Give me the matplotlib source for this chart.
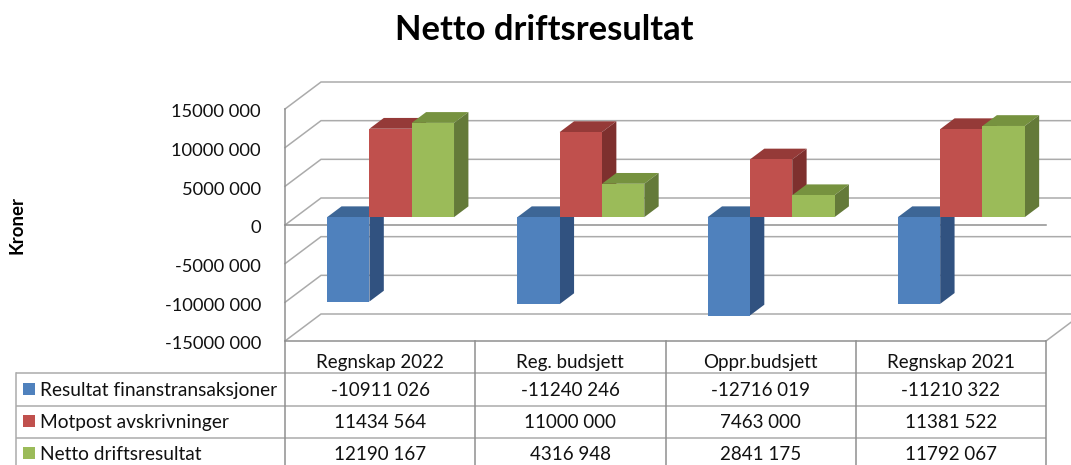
import matplotlib
matplotlib.use("Agg")
import matplotlib.pyplot as plt

plt.rcParams['font.family'] = ['Lato', 'DejaVu Sans']

categories = ["Regnskap 2022", "Reg. budsjett", "Oppr.budsjett", "Regnskap 2021"]
series_names = ["Resultat finanstransaksjoner", "Motpost avskrivninger", "Netto driftsresultat"]
resultat_finans = [-10911026, -11240246, -12716019, -11210322]
motpost_avskr = [11434564, 11000000, 7463000, 11381522]
netto_drift = [12190167, 4316948, 2841175, 11792067]
y_ticks = [15000000, 10000000, 5000000, 0, -5000000, -10000000, -15000000]

series = [resultat_finans, motpost_avskr, netto_drift]
front_col = ["#4F81BD", "#C0504D", "#9BBB59"]
top_col = ["#3D6696", "#953A38", "#76923F"]
side_col = ["#315280", "#7E302E", "#647A39"]
GRID = "#ababab"
AXIS = "#8f8f8f"
TXT = "#111111"

W, H = 1071, 465
fig = plt.figure(figsize=(W / 100, H / 100), dpi=100)


def fmt(v):
    if v == 0:
        return "0"
    s = str(v)
    return s[:-3] + " " + s[-3:]


# overlay in pixel units for the data table and labels
px = fig.add_axes([0, 0, 1, 1], zorder=2)
px.set_xlim(0, W)
px.set_ylim(H, 0)
px.axis("off")
px.patch.set_alpha(0)

# front plane of the chart: categories on x, kroner on y
L, R, T, B = 285, 1046, 109, 341
ax = fig.add_axes([L / W, 1 - B / H, (R - L) / W, (B - T) / H], zorder=1)
ax.set_xlim(0, len(categories))
ax.set_ylim(-15000000, 15000000)
ax.axis("off")

ux = (R - L) / len(categories)          # px per category
uy = (B - T) / 30000000                 # px per krone
DX, DY = 36, 27                         # full floor depth in px


def P(x, y, depth=0.0):
    """Project a point at a given depth fraction to the front-plane data space."""
    return x + depth * DX / ux, y + depth * DY / uy


# back wall grid, side wall diagonals, left axis
for v in y_ticks:
    x0, y0 = P(0, v)
    x1, y1 = P(0, v, 1)
    x2, _ = P(len(categories) + 0.3, v, 1)
    ax.plot([x0, x1, x2], [y0, y1, y1], color=GRID, lw=1.1, clip_on=False, zorder=1,
            solid_joinstyle="miter")
ax.plot([0, 0], [-15000000, 15000000], color=AXIS, lw=1.1, clip_on=False, zorder=2)
ax.plot([0, len(categories)], [0, 0], color=AXIS, lw=1.1, clip_on=False, zorder=2)
xa, ya = P(len(categories), -15000000)
xb, yb = P(len(categories), -15000000, 1)
ax.plot([xa, xb], [ya, yb], color=GRID, lw=1.1, clip_on=False, zorder=1)

# bars with depth
D0, D1 = 0.29, 0.69
bar_w = 42.3 / ux
start = (1 - 3 * bar_w) / 2
z = 3
for s, vals in enumerate(series):
    for i, v in enumerate(vals):
        xl = i + start + s * bar_w
        xr = xl + bar_w
        hi, lo = max(v, 0), min(v, 0)
        front = [P(xl, lo, D0), P(xr, lo, D0), P(xr, hi, D0), P(xl, hi, D0)]
        top = [P(xl, hi, D0), P(xr, hi, D0), P(xr, hi, D1), P(xl, hi, D1)]
        side = [P(xr, lo, D0), P(xr, lo, D1), P(xr, hi, D1), P(xr, hi, D0)]
        for poly, c in ((top, top_col[s]), (side, side_col[s]), (front, front_col[s])):
            ax.fill(*zip(*poly), facecolor=c, edgecolor="none", clip_on=False, zorder=z)
    z += 1

# y tick labels
for v in y_ticks:
    ax.annotate(fmt(v), xy=(0, v), xytext=(-24 * 0.72, -2.3), textcoords="offset points",
                ha="right", va="center", fontsize=13.2, color=TXT, clip_on=False)

# title and axis label
px.text(544, 30.5, "Netto driftsresultat", ha="center", va="center", fontsize=24.8,
        fontweight="bold", color="#000000")
px.text(16.5, 225, "Kroner", rotation=90, ha="center", va="center", fontsize=13.4,
        fontweight="bold", color="#000000")

# data table
col_x = [L + ux * i for i in range(len(categories) + 1)]
row_y = [341, 373, 405.5, 438]
TL = 15.5
for k, yy in enumerate(row_y):
    px.plot([TL if k > 0 else L, R], [yy, yy], color=GRID if k else AXIS, lw=1.1, solid_capstyle="butt")
px.plot([TL, TL], [373, H], color=GRID, lw=1.1)
for cx in col_x:
    px.plot([cx, cx], [341, H], color=AXIS, lw=1.1)

text_y = [362, 390.5, 422.5, 454]
for i, c in enumerate(categories):
    cx = (col_x[i] + col_x[i + 1]) / 2
    px.text(cx, text_y[0], c, ha="center", va="center", fontsize=13.5, color=TXT)
    for s, vals in enumerate(series):
        px.text(cx, text_y[s + 1], fmt(vals[i]), ha="center", va="center", fontsize=13.5, color=TXT)
for s, name in enumerate(series_names):
    yc = text_y[s + 1] - 1.5
    px.fill([23, 35, 35, 23], [yc - 6, yc - 6, yc + 6, yc + 6], color=front_col[s], lw=0)
    px.text(40, yc + 1.5, name, ha="left", va="center", fontsize=13.75, color=TXT)

px.set_xlim(0, W)
px.set_ylim(H, 0)
fig.savefig("out.png", dpi=100, facecolor="white")
